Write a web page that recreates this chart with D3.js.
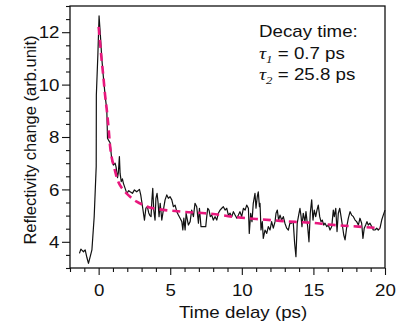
<!DOCTYPE html>
<html><head><meta charset="utf-8">
<script src="https://cdn.jsdelivr.net/npm/d3@7"></script>
<style>
html,body{margin:0;padding:0;background:#fff;}
svg{display:block;}
text{font-family:"Liberation Sans",Arial,sans-serif;fill:#111;}
</style></head>
<body>
<svg id="chart" width="401" height="324"></svg>
<script>
// ---- data ----
const timeData = [-1.34,-1.24,-1.17,-1.06,-0.94,-0.82,-0.71,-0.58,-0.47,-0.31,-0.17,-0.16,-0.05,0.03,0.12,0.22,0.33,0.45,0.57,0.62,0.72,0.8,0.92,1.03,1.15,1.22,1.32,1.38,1.45,1.5,1.58,1.66,1.73,1.85,1.97,2.1,2.2,2.36,2.5,2.66,2.85,2.94,3.08,3.2,3.3,3.4,3.5,3.58,3.66,3.72,3.78,3.85,3.94,4.0,4.08,4.15,4.22,4.3,4.41,4.52,4.64,4.76,4.87,4.99,5.11,5.22,5.34,5.46,5.57,5.69,5.81,5.88,5.95,6.04,6.11,6.2,6.27,6.39,6.5,6.62,6.73,6.85,6.97,7.04,7.15,7.31,7.48,7.55,7.62,7.71,7.8,7.9,8.01,8.13,8.25,8.36,8.48,8.6,8.71,8.83,8.95,9.06,9.18,9.3,9.41,9.53,9.65,9.76,9.87,9.99,10.11,10.23,10.34,10.46,10.52,10.62,10.71,10.8,10.92,10.99,11.08,11.15,11.23,11.27,11.34,11.43,11.5,11.62,11.74,11.85,11.97,12.08,12.2,12.32,12.39,12.48,12.57,12.67,12.78,12.9,13.01,13.13,13.25,13.36,13.48,13.59,13.69,13.78,13.87,13.97,14.06,14.14,14.2,14.29,14.41,14.48,14.6,14.69,14.78,14.88,14.97,15.06,15.16,15.25,15.34,15.44,15.53,15.62,15.72,15.81,15.93,16.04,16.16,16.28,16.39,16.46,16.56,16.65,16.74,16.84,16.93,17.02,17.12,17.21,17.33,17.44,17.56,17.67,17.79,17.91,18.02,18.14,18.25,18.37,18.46,18.55,18.65,18.74,18.83,18.95,19.07,19.18,19.3,19.42,19.53,19.65,19.77,19.88,20.0];
const signalData = [3.56,3.72,3.68,3.62,3.69,3.40,3.18,3.45,3.69,4.96,6.87,9.6,11.2,12.62,11.9,11.0,10.3,9.6,9.03,7.95,7.85,7.78,7.12,6.93,7.0,6.85,6.45,6.65,7.25,6.6,6.3,6.4,6.23,6.04,5.85,5.95,5.91,5.85,5.98,5.91,6.0,5.79,5.28,4.83,5.28,5.34,5.1,5.0,4.96,5.6,6.04,5.21,4.83,5.66,5.85,5.5,4.96,5.47,4.83,5.21,5.6,5.79,5.66,5.72,5.6,5.34,5.40,5.15,5.02,4.9,4.77,4.45,4.9,4.45,5.09,4.83,4.64,4.77,5.21,4.96,5.47,5.34,4.71,5.28,4.58,4.58,4.58,4.96,5.28,5.21,4.96,5.02,4.83,4.96,4.83,5.09,5.21,5.28,5.34,5.21,5.28,5.02,5.09,4.96,5.15,5.02,4.9,5.02,5.15,4.96,5.28,5.21,5.4,5.28,4.32,5.09,4.77,5.47,5.85,5.28,5.72,5.91,5.34,5.47,4.45,4.77,4.13,4.45,4.32,4.58,4.45,4.77,4.52,4.77,5.09,5.21,4.83,5.02,4.83,4.96,4.71,4.52,4.45,4.71,4.71,4.77,3.94,3.43,4.71,5.02,5.28,4.96,4.58,5.09,4.77,5.15,4.58,4.0,5.09,5.6,4.83,5.21,4.96,5.21,5.40,4.96,4.77,4.83,4.64,4.71,4.58,4.64,4.45,4.58,5.21,4.96,5.28,4.39,5.09,5.28,4.96,4.64,4.26,4.07,4.58,4.9,5.15,5.02,4.96,4.83,4.77,4.64,4.9,4.71,4.13,4.52,4.64,4.77,4.64,4.71,4.58,4.45,4.45,4.52,4.45,4.52,4.83,5.02,5.21];
const fitTime = [0.0,0.1,0.2,0.33,0.45,0.57,0.7,0.8,0.92,1.03,1.15,1.27,1.5,1.73,2.0,2.2,2.66,3.13,3.5,4.0,4.64,5.0,6.04,7.43,8.6,9.18,10.0,11.27,12.67,13.71,15.0,16.04,18.14,19.65];
const fitValues = [12.2,11.6,11.0,10.3,9.6,9.03,8.3,7.65,7.2,6.95,6.7,6.45,6.15,5.98,5.82,5.72,5.53,5.4,5.32,5.26,5.21,5.19,5.14,5.09,5.02,4.97,4.92,4.86,4.80,4.76,4.72,4.66,4.58,4.52];
const xMajorTicks = [0,5,10,15,20];
const yMajorTicks = [4,6,8,10,12];
const xTitle = "Time delay (ps)";
const yTitle = "Reflectivity change (arb.unit)";
const legendTitle = "Decay time:";
const tauLabels = [{sub:"1", value:"0.7 ps"},{sub:"2", value:"25.8 ps"}];

// ---- drawing ----
const svg = d3.select("#chart");
const L=70, R=385, T=6, B=268;
const SX = 1.17; // horizontal stretch of the reference text
const x = d3.scaleLinear().domain([-2,20]).range([L,R]);
const y = d3.scaleLinear().domain([3,13]).range([B,T]);

const xMinor = d3.range(-2,20.001,1).filter(v=>!xMajorTicks.includes(v));
const yMinor = d3.range(3,13.001,0.5).filter(v=>!yMajorTicks.includes(v));

// minor ticks
svg.append("g").attr("transform",`translate(0,${B})`)
  .call(d3.axisBottom(x).tickValues(xMinor).tickSize(4).tickFormat(""))
  .call(g=>g.select(".domain").remove())
  .selectAll("line").attr("stroke","#111").attr("stroke-width",1.1);
svg.append("g").attr("transform",`translate(${L},0)`)
  .call(d3.axisLeft(y).tickValues(yMinor).tickSize(4).tickFormat(""))
  .call(g=>g.select(".domain").remove())
  .selectAll("line").attr("stroke","#111").attr("stroke-width",1.1);

// major ticks + labels
const gx = svg.append("g").attr("transform",`translate(0,${B})`)
  .call(d3.axisBottom(x).tickValues(xMajorTicks).tickSize(7).tickFormat(d3.format("d")))
  .call(g=>g.select(".domain").remove());
gx.selectAll("line").attr("stroke","#111").attr("stroke-width",1.1);
gx.selectAll("text").attr("y",null).attr("dy",null)
  .attr("transform",`translate(0,28) scale(${SX},1)`)
  .attr("text-anchor","middle").style("font-size","16px").attr("fill","#111")
  .style("font-family",'"Liberation Sans",Arial,sans-serif');

const gy = svg.append("g").attr("transform",`translate(${L},0)`)
  .call(d3.axisLeft(y).tickValues(yMajorTicks).tickSize(8).tickFormat(d3.format("d")))
  .call(g=>g.select(".domain").remove());
gy.selectAll("line").attr("stroke","#111").attr("stroke-width",1.1);
gy.selectAll("text").attr("x",null).attr("dy","0.36em")
  .attr("transform",`translate(-10.5,0) scale(${SX},1)`)
  .attr("text-anchor","end").style("font-size","16px").attr("fill","#111")
  .style("font-family",'"Liberation Sans",Arial,sans-serif');

// data line
const pts = timeData.map((t,i)=>[t,signalData[i]]);
svg.append("path").datum(pts)
  .attr("d", d3.line().x(d=>x(d[0])).y(d=>y(d[1])))
  .attr("fill","none").attr("stroke","#111").attr("stroke-width",1.2).attr("stroke-linejoin","round");

// fit line
const fpts = fitTime.map((t,i)=>[t,fitValues[i]]);
svg.append("path").datum(fpts)
  .attr("d", d3.line().curve(d3.curveMonotoneX).x(d=>x(d[0])).y(d=>y(d[1])))
  .attr("fill","none").attr("stroke","#e8177d").attr("stroke-width",2.6)
  .attr("stroke-dasharray","8,5");

// frame
svg.append("rect").attr("x",L).attr("y",T).attr("width",R-L).attr("height",B-T)
  .attr("fill","none").attr("stroke","#111").attr("stroke-width",1.3);

// axis titles
svg.append("text").attr("transform",`translate(243,318) scale(${SX},1)`)
  .attr("text-anchor","middle").style("font-size","16px").text(xTitle);
svg.append("text").attr("transform","translate(36,140) rotate(-90)")
  .attr("text-anchor","middle").style("font-size","16.5px").text(yTitle);

// legend text
svg.append("text").attr("transform",`translate(259,37) scale(${SX},1)`)
  .style("font-size","16px").text(legendTitle);
tauLabels.forEach((d,i)=>{
  const t = svg.append("text").attr("transform",`translate(259,${59+i*20.5}) scale(${SX},1)`)
    .style("font-size","16px");
  t.append("tspan").style("font-family",'"Liberation Serif","Times New Roman",serif')
    .style("font-style","italic").style("font-size","17px").text("τ");
  t.append("tspan").style("font-family",'"Liberation Serif","Times New Roman",serif')
    .style("font-style","italic").style("font-size","11px").attr("dy","4").text(d.sub);
  t.append("tspan").attr("dy","-4").text(" = " + d.value);
});
</script>
</body></html>
